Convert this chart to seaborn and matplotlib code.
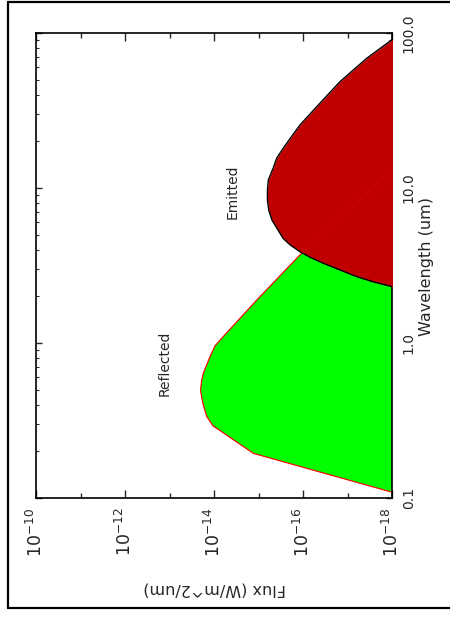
import numpy as np
import pandas as pd
import matplotlib
matplotlib.use("Agg")
import matplotlib.pyplot as plt
import seaborn as sns
from matplotlib.ticker import LogLocator, FixedLocator, FixedFormatter, NullFormatter
from matplotlib.lines import Line2D

# ---- data ----
refl_wavelength = [0.1, 0.109, 0.194, 0.292, 0.335, 0.398, 0.449, 0.498, 0.569, 0.638, 0.817,
                   0.957, 1.10, 1.89, 3.70, 13.1, 20.0]
refl_flux = [3.4e-19, 1.0e-18, 1.3e-15, 1.05e-14, 1.45e-14, 1.74e-14, 1.9e-14, 2.0e-14, 1.9e-14,
             1.74e-14, 1.23e-14, 9.5e-15, 6.2e-15, 1.1e-15, 1.17e-16, 1.0e-18, 2.0e-19]

emit_wavelength = [2.1, 2.31, 2.48, 2.68, 2.96, 3.27, 3.57, 3.88, 4.29, 4.73, 6.22, 7.21, 8.37,
                   9.70, 11.3, 13.4, 15.6, 18.0, 20.9, 25.5, 33.5, 48.5, 68.7, 90.2, 100.0]
emit_flux = [2.0e-19, 1.0e-18, 2.63e-18, 6.2e-18, 1.48e-17, 3.5e-17, 6.9e-17, 1.17e-16, 1.94e-16,
             2.8e-16, 5.0e-16, 5.9e-16, 6.3e-16, 6.3e-16, 6.0e-16, 4.7e-16, 3.9e-16, 2.8e-16,
             1.94e-16, 1.17e-16, 4.9e-17, 1.48e-17, 3.7e-18, 1.02e-18, 6.3e-19]

flux_ticks = [1e-10, 1e-12, 1e-14, 1e-16, 1e-18]
flux_ticklabels = [r"$10^{-10}$", r"$10^{-12}$", r"$10^{-14}$", r"$10^{-16}$", r"$10^{-18}$"]
wl_ticks = [0.1, 1.0, 10.0, 100.0]
wl_ticklabels = ["0.1", "1.0", "10.0", "100.0"]

sns.set_style("white")
plt.rcParams["font.family"] = ["DejaVu Sans"]
plt.rcParams["mathtext.fontset"] = "dejavusans"

df_refl = pd.DataFrame({"wavelength": refl_wavelength, "flux": refl_flux})
df_emit = pd.DataFrame({"wavelength": emit_wavelength, "flux": emit_flux})

fig = plt.figure(figsize=(4.5, 6.19), dpi=100)
ax = fig.add_axes([36 / 450, 1 - 498 / 619, (392 - 36) / 450, (498 - 33) / 619])

ax.set_xscale("log")
ax.set_yscale("log")

# reflected
ax.fill_betweenx(df_refl["wavelength"], df_refl["flux"], 1e-25, color="#00ff00", lw=0, zorder=1)
sns.lineplot(data=df_refl, x="flux", y="wavelength", sort=False, estimator=None,
             color="#ff0000", lw=0.8, ax=ax, zorder=2)
# emitted
ax.fill_betweenx(df_emit["wavelength"], df_emit["flux"], 1e-25, color="#c00000", lw=0, zorder=3)
sns.lineplot(data=df_emit, x="flux", y="wavelength", sort=False, estimator=None,
             color="black", lw=1.0, ax=ax, zorder=4)
# faint trace of reflected curve under emitted area
ax.plot(df_refl["flux"], df_refl["wavelength"], color="#e01010", lw=0.5, alpha=0.45, zorder=5)

ax.set_xlim(1e-10, 1e-18)
ax.set_ylim(0.1, 100)

# flux axis (bottom)
ax.xaxis.set_major_locator(FixedLocator(flux_ticks))
ax.xaxis.set_major_formatter(FixedFormatter(flux_ticklabels))
ax.xaxis.set_minor_locator(FixedLocator([1e-11, 1e-13, 1e-15, 1e-17]))
ax.xaxis.set_minor_formatter(NullFormatter())
ax.tick_params(axis="x", which="major", direction="in", length=6, width=1, top=True,
               bottom=True, labelsize=12.5, labelrotation=90, pad=7)
ax.tick_params(axis="x", which="minor", direction="in", length=3.5, width=1, top=True, bottom=True)
for lab in ax.get_xticklabels():
    lab.set_va("top")
    lab.set_ha("center")

# wavelength axis (right)
ax.yaxis.tick_right()
ax.yaxis.set_major_locator(FixedLocator(wl_ticks))
ax.yaxis.set_major_formatter(FixedFormatter(wl_ticklabels))
ax.yaxis.set_minor_locator(LogLocator(base=10, subs=np.arange(2, 10)))
ax.yaxis.set_minor_formatter(NullFormatter())
ax.tick_params(axis="y", which="major", direction="in", length=4, width=1, left=True,
               right=True, labelleft=False, labelright=True, labelsize=10,
               labelrotation=90, pad=7)
ax.tick_params(axis="y", which="minor", direction="in", length=2, width=0.8, left=True, right=True)
for lab in ax.get_yticklabels():
    lab.set_va("center")
    lab.set_ha("left")

for s in ax.spines.values():
    s.set_linewidth(1.2)
    s.set_color("black")
    s.set_visible(True)

ax.set_xlabel("")
ax.set_ylabel("")

# labels
fig.text(426 / 450, 1 - 266 / 619, "Wavelength (um)", rotation=90, ha="center", va="center",
         fontsize=11.5)
fig.text(215 / 450, 1 - 589 / 619, "Flux (W/m^2/um)", rotation=180, ha="center", va="center",
         fontsize=11.5)
fig.text(165 / 450, 1 - 363 / 619, "Reflected", rotation=90, ha="center", va="center",
         fontsize=10)
fig.text(233 / 450, 1 - 192 / 619, "Emitted", rotation=90, ha="center", va="center",
         fontsize=10)

# outer frame (left, top, bottom; right side runs off the image)
x0, ytop, ybot = 7.5 / 450, 1 - 1.5 / 619, 1 - 608 / 619
for xs, ys in [([x0, x0], [ybot, ytop]), ([x0, 1.05], [ytop, ytop]), ([x0, 1.05], [ybot, ybot])]:
    fig.add_artist(Line2D(xs, ys, transform=fig.transFigure, color="black", lw=1.6))

fig.savefig("out.png", dpi=100)
